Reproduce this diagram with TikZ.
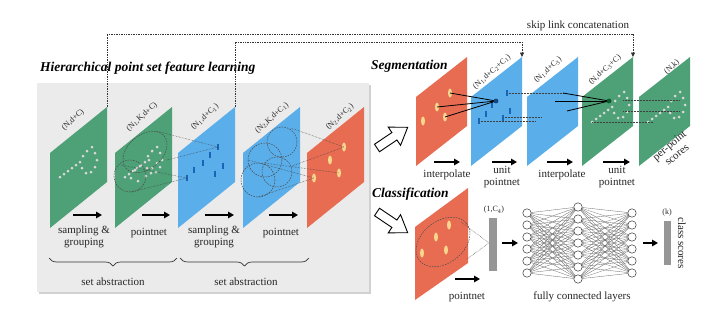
\documentclass[tikz,border=0pt]{standalone}
\usepackage{fontspec}
\setmainfont{Liberation Serif}
\usetikzlibrary{decorations.pathreplacing,arrows.meta,calc}
\definecolor{pgreen}{RGB}{78,160,118}
\definecolor{pblue}{RGB}{90,174,234}
\definecolor{pred}{RGB}{232,108,82}
\definecolor{panelc}{RGB}{235,235,235}
\definecolor{dotgray}{RGB}{218,218,218}
\definecolor{dkblue}{RGB}{25,100,180}
\definecolor{tealc}{RGB}{20,150,160}
\definecolor{pyellow}{RGB}{248,214,140}
\definecolor{barg}{RGB}{150,150,150}
\definecolor{dkgreen}{RGB}{10,90,45}
\newcommand{\lplane}[3]{\fill[#3] (#2,228) -- (#2,153) -- ({#2+57},107) -- ({#2+57},182) -- cycle; \coordinate (#1) at ({#2+57},107);}
\newcommand{\splane}[3]{\fill[#3] (#2,166) -- (#2,97) -- ({#2+51},57) -- ({#2+51},126) -- cycle; \coordinate (#1) at ({#2+51},57);}
\newcommand{\pshape}[2]{\foreach \px/\py in {60/177,64/174,68/171,72/168,76/165,80/162,83/156,87/151,92/147,95/153,97/160,95/167,91/172,86/173,82/168}{\fill[dotgray] ({\px+#1},{\py+#2}) circle (1.5);}}
\newcommand{\bdash}[3]{\foreach \px/\py in {#1}{\fill[#2] ({\px-0.8},{\py-2.8}) rectangle ({\px+0.8},{\py+2.8});}}
\newcommand{\ydots}[1]{\foreach \px/\py in {#1}{\fill[pyellow] (\px,\py) ellipse [x radius=2, y radius=4.5];}}
\newcommand{\hollowarrow}[3]{\draw[fill=white, line width=0.9pt, line join=miter, rotate around={#3:(#1,#2)}] (#1,{#2-4.5}) -- ({#1+21},{#2-4.5}) -- ({#1+21},{#2-11}) -- ({#1+37},#2) -- ({#1+21},{#2+11}) -- ({#1+21},{#2+4.5}) -- (#1,{#2+4.5}) -- cycle;}
\begin{document}
\begin{tikzpicture}[x=1pt,y=-1pt,
  lbl/.style={font=\fontsize{8}{8.5}\selectfont, rotate=42, inner sep=0, text=black!85},
  txt/.style={font=\fontsize{11}{11.5}\selectfont, align=center, inner sep=0, text=black!85},
  ttl/.style={font=\fontsize{13.5}{14}\selectfont\bfseries\itshape, inner sep=0, anchor=west},
  flow/.style={line width=1.6pt, -{Triangle[length=6pt,width=6.5pt]}},
  skiplink/.style={densely dotted, line width=0.7pt, black!80},
  cone/.style={densely dotted, line width=0.5pt, black!75},
  grp/.style={line width=0.5pt, black!70, dash pattern=on 1.6pt off 1.1pt},
  nn/.style={circle, draw=black!80, fill=white, line width=0.5pt, minimum size=8.4pt, inner sep=0},
  bar/.style={fill=barg},
  brc/.style={decorate, decoration={brace, mirror, amplitude=8pt}, line width=0.7pt, black!80}]
\useasboundingbox (0,0) rectangle (721,324);
\fill[white] (0,0) rectangle (721,324);
% panel
\fill[black!18] (39,85) rectangle (371,294);
\fill[panelc] (37,83) rectangle (369,292);
\node[ttl] (title) at (40,68) {Hierarchical point set feature learning};
% left planes
\lplane{L1}{50}{pgreen}
\lplane{L2}{115}{pgreen}
\lplane{L3}{178}{pblue}
\lplane{L4}{243}{pblue}
\lplane{L5}{307}{pred}
\node[lbl] (l1) at (73,120) {(N,d+C)};
\node[lbl] (l2) at (142,117) {(N\textsubscript{1},K,d+C)};
\node[lbl] (l3) at (205,117) {(N\textsubscript{1},d+C\textsubscript{1})};
\node[lbl] (l4) at (272,118) {(N\textsubscript{2},K,d+C\textsubscript{1})};
\node[lbl] (l5) at (340,117) {(N\textsubscript{2},d+C\textsubscript{2})};
\pshape{0}{0}
\pshape{65}{0}
\foreach \px/\py in {135/170,140/166,149/160,152/168,157/163,131/178,138/181,146/176}{\fill[dotgray] (\px,\py) circle (1.5);}
\bdash{218/147,210/155,203/163,194/170,187/178,223/166,215/174}{dkblue}
\bdash{282/147,274/155,267/163,258/170,251/177,287/166,279/174}{tealc}
\ydots{344/147,330/160,339/173,314/178}
% grouping cones
\draw[grp] (145,152) ellipse [x radius=25, y radius=17, rotate=40];
\draw[grp] (130,176) ellipse [x radius=16, y radius=16];
\draw[cone] (156,131) -- (218,147);
\draw[cone] (167,160) -- (218,147);
\draw[cone] (121,165) -- (187,178);
\draw[cone] (131,192) -- (187,178);
\draw[grp] (282,142) circle (15);
\draw[grp] (265,160) circle (17);
\draw[grp] (258,180) circle (17);
\draw[grp] (277,172) circle (15);
\draw[cone] (291,128) -- (344,147);
\draw[cone] (292,166) -- (344,147);
\draw[cone] (264,163) -- (339,173);
\draw[cone] (258,197) -- (314,178);
\draw[cone] (248,160) -- (314,178);
% left flow arrows
\coordinate (fa1) at (73,215); \coordinate (fb1) at (102,215);
\coordinate (fa2) at (142,215); \coordinate (fb2) at (170,215);
\coordinate (fa3) at (205,215); \coordinate (fb3) at (234,215);
\coordinate (fa4) at (269,215); \coordinate (fb4) at (298,215);
\draw[flow] (fa1) -- (fb1);
\draw[flow] (fa2) -- (fb2);
\draw[flow] (fa3) -- (fb3);
\draw[flow] (fa4) -- (fb4);
\node[txt] (sg1) at (84,237) {sampling \&\\grouping};
\node[txt] (pn1) at (149,233) {pointnet};
\node[txt] (sg2) at (214,237) {sampling \&\\grouping};
\node[txt] (pn2) at (281,233) {pointnet};
\coordinate (b1a) at (49,258); \coordinate (b1b) at (177,258);
\coordinate (b2a) at (180,258); \coordinate (b2b) at (309,258);
\draw[brc] (b1a) -- (b1b);
\draw[brc] (b2a) -- (b2b);
\node[txt] (sa1) at (113,282) {set abstraction};
\node[txt] (sa2) at (246,282) {set abstraction};
% segmentation
\node[ttl] (segt) at (371,66) {Segmentation};
\hollowarrow{377}{148}{34}
\splane{S1}{416}{pred}
\splane{S2}{471}{pblue}
\splane{S3}{527}{pblue}
\splane{S4}{582}{pgreen}
\splane{S5}{639}{pgreen}
\node[lbl] (s2l) at (492,72) {(N\textsubscript{1},d+C\textsubscript{2}+C\textsubscript{1})};
\node[lbl] (s3l) at (548,70) {(N\textsubscript{1},d+C\textsubscript{3})};
\node[lbl] (s4l) at (605,70) {(N,d+C\textsubscript{3}+C)};
\node[lbl] (s5l) at (672,67) {(N,k)};
\ydots{450/93,437/107,445/117,423/121}
\draw[cone] (507,93) -- (563,93);
\draw[cone] (479,121) -- (535,121);
\draw[cone] (503,117) -- (542,117);
\bdash{507/93,492/105,486/114,510/111,503/118,479/121}{dkblue}
\bdash{563/93,555/101,548/107,542/113,535/121,567/111}{dkblue}
\draw[line width=0.8pt] (450,93) -- (496,101);
\draw[line width=0.8pt] (437,107) -- (496,101);
\draw[line width=0.8pt] (445,117) -- (496,101);
\fill[black!30!dkblue] (496,101) circle (2.4);
\pshape{532}{-55}
\pshape{588}{-55}
\draw[cone] (623,100) -- (680,100);
\draw[cone] (623,111) -- (680,111);
\draw[cone] (592,122) -- (653,122);
\draw[line width=0.8pt] (563,93) -- (609,101);
\draw[line width=0.8pt] (555,101) -- (609,101);
\draw[line width=0.8pt] (567,111) -- (609,101);
\fill[dkgreen] (609,101) circle (2.4);
\coordinate (sa1a) at (434,162); \coordinate (sa1b) at (460,162);
\coordinate (sa2a) at (492,162); \coordinate (sa2b) at (517,162);
\coordinate (sa3a) at (547,162); \coordinate (sa3b) at (573,162);
\coordinate (sa4a) at (603,162); \coordinate (sa4b) at (630,162);
\draw[flow] (sa1a) -- (sa1b);
\draw[flow] (sa2a) -- (sa2b);
\draw[flow] (sa3a) -- (sa3b);
\draw[flow] (sa4a) -- (sa4b);
\node[txt] (ip1) at (447,175) {interpolate};
\node[txt] (up1) at (502,177) {unit\\pointnet};
\node[txt] (ip2) at (562,175) {interpolate};
\node[txt] (up2) at (617,177) {unit\\pointnet};
\node[txt, rotate=40] (pps) at (673,150) {per-point\\scores};
% skip links
\coordinate (ytopA) at (0,34);
\coordinate (ytopB) at (0,42);
\draw[skiplink, -{Triangle[length=4.5pt,width=4pt]}] (L1) -- (L1 |- ytopA) -- (S4 |- ytopA) -- (S4);
\draw[skiplink, -{Triangle[length=4.5pt,width=4pt]}] (L3) -- (L3 |- ytopB) -- (S2 |- ytopB) -- (S2);
\node[txt] (skt) at (578,26) {skip link concatenation};
% classification
\node[ttl] (clt) at (372,194) {Classification};
\hollowarrow{377}{212}{-34}
\fill[pred] (415,300) -- (415,227) -- (468,188) -- (468,263) -- cycle;
\draw[grp] (443,242) ellipse [x radius=30, y radius=21, rotate=38];
\ydots{449/225,436/237,446/250,422/253}
\fill[bar] (489,218) rectangle (497,271);
\coordinate (cbar) at (489,243);
\draw[cone] (461,222) -- (cbar);
\draw[cone] (467,259) -- (cbar);
\node[font=\fontsize{8}{8.5}\selectfont, inner sep=0, text=black!85] (c4) at (494,210) {(1,C\textsubscript{4})};
\coordinate (ca1) at (455,279); \coordinate (cb1) at (480,279);
\draw[flow] (ca1) -- (cb1);
\node[txt] (cpn) at (467,297) {pointnet};
\coordinate (ca2) at (502,243); \coordinate (cb2) at (518,243);
\draw[flow] (ca2) -- (cb2);
% network
\foreach \i in {0,...,5} \coordinate (a\i) at (527,{213+12*\i});
\foreach \i in {0,...,6} \coordinate (b\i) at (578,{207+12*\i});
\foreach \i in {0,...,5} \coordinate (c\i) at (632,{213+12*\i});
\foreach \i in {0,...,5} \foreach \j in {0,...,6} {\draw[line width=0.3pt, black!60] (a\i) -- (b\j); \draw[line width=0.3pt, black!60] (c\i) -- (b\j);}
\foreach \i in {0,...,5} {\node[nn] (na\i) at (a\i) {}; \node[nn] (nc\i) at (c\i) {};}
\foreach \i in {0,...,6} \node[nn] (nb\i) at (b\i) {};
\node[txt] (fcl) at (582,297) {fully connected layers};
\coordinate (ca3) at (643,243); \coordinate (cb3) at (658,243);
\draw[flow] (ca3) -- (cb3);
\fill[bar] (664,221) rectangle (671,265);
\node[font=\fontsize{8}{8.5}\selectfont, inner sep=0, text=black!85] (kl) at (667,213) {(k)};
\node[txt, rotate=-90] (csc) at (682,243) {class scores};
\end{tikzpicture}
\end{document}
